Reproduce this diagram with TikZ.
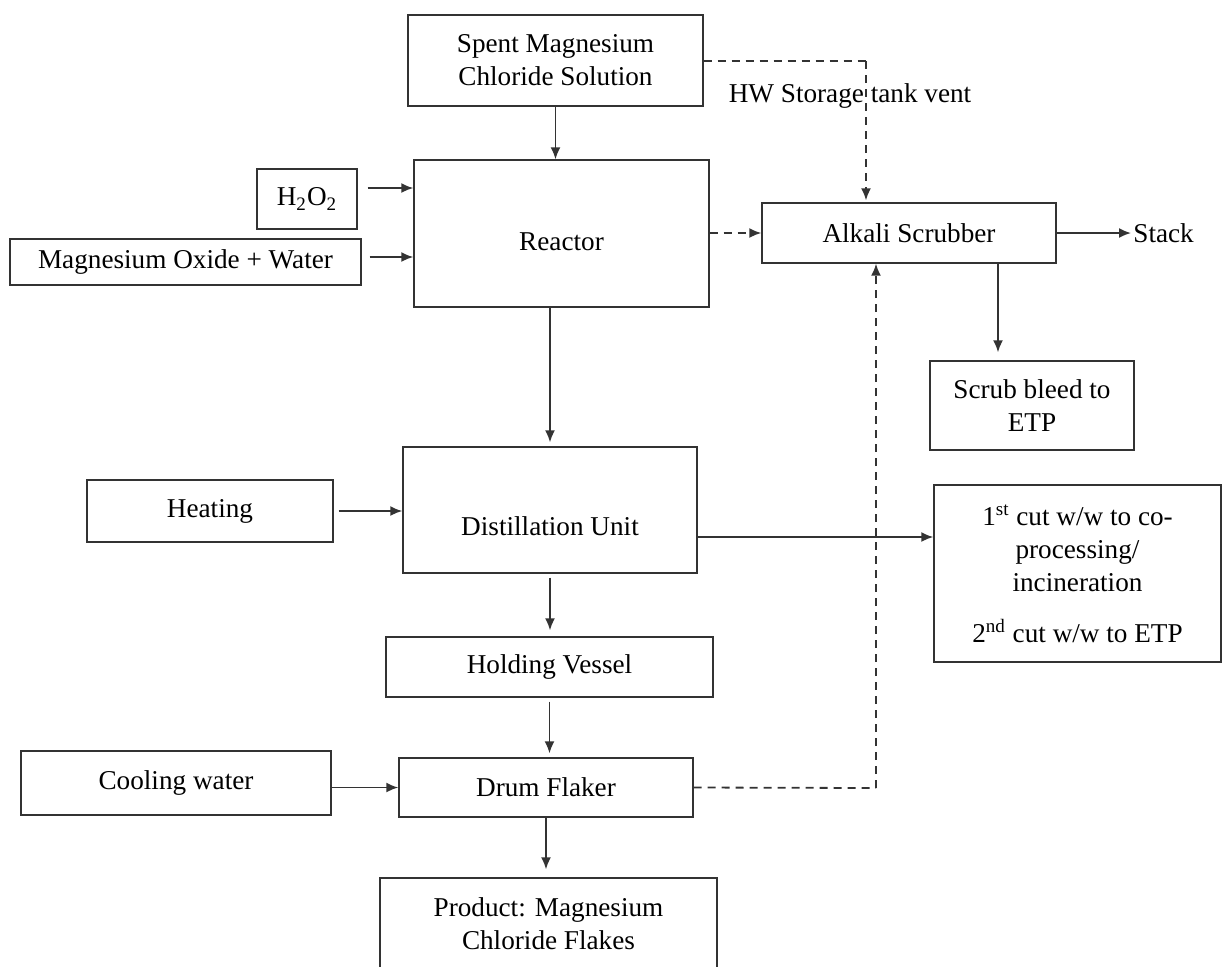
\documentclass[tikz,border=0pt]{standalone}
\usepackage{fontspec}
\setmainfont{Liberation Serif}
\usepackage{tikz}
\usetikzlibrary{arrows.meta, positioning, calc}
\tikzset{
  procbox/.style={
    draw=black!80, line width=0.7pt, align=center, inner sep=0pt,
    font=\fontsize{13.6}{16.5}\selectfont, fill=white
  },
  flowarrow/.style={
    -{Latex[length=6pt,width=5pt]}, line width=0.9pt, color=black!80
  },
  ventarrow/.style={
    -{Latex[length=6pt,width=5pt]}, line width=0.9pt, color=black!80,
    dash pattern=on 4pt off 3pt
  },
  ventline/.style={
    line width=0.9pt, color=black!80, dash pattern=on 4pt off 3pt
  },
  flowlabel/.style={
    font=\fontsize{13.6}{16.5}\selectfont, inner sep=1pt
  },
}
\newcommand{\lowertext}[2]{\raisebox{-#1}[\height][\depth]{#2}}

\begin{document}
\begin{tikzpicture}[x=0.5pt, y=-0.5pt]
  \useasboundingbox (0,0) rectangle (1222,966);

  % Feed and reactor
  \node[procbox, minimum width=147.5pt, minimum height=45.5pt] (spent) at (555.5,60.5)
    {Spent Magnesium\\Chloride Solution};
  \node[procbox, minimum width=147.5pt, minimum height=73.5pt] (reactor) at (561.5,233.5)
    {\lowertext{4pt}{Reactor}};
  \node[procbox, minimum width=50pt, minimum height=30pt] (hyd) at (307,199)
    {H\textsubscript{2}O\textsubscript{2}};
  \node[procbox, minimum width=175.5pt, minimum height=23pt] (mgo) at (185.5,262)
    {Magnesium Oxide + Water};

  % Scrubber side
  \node[procbox, minimum width=147pt, minimum height=30pt] (scrubber) at (909,233)
    {Alkali Scrubber};
  \node[procbox, minimum width=102pt, minimum height=44.5pt] (bleed) at (1032,405.5)
    {Scrub bleed to\\ETP};
  \node[flowlabel, anchor=west] (stack) at (1131,233) {Stack};
  \node[flowlabel] (hwvent) at (850,96) {HW Storage tank vent};
  \coordinate (ventturn) at (866,61);

  % Distillation
  \node[procbox, minimum width=123pt, minimum height=31pt] (heating) at (210,511)
    {Heating};
  \node[procbox, minimum width=147pt, minimum height=63pt] (distill) at (550,510)
    {\lowertext{8pt}{Distillation Unit}};
  \node[procbox, minimum width=143.5pt, minimum height=88.5pt] (cuts) at (1077.5,573.5)
    {1\textsuperscript{st} cut w/w to co-\\processing/\\incineration\\[9pt]
     2\textsuperscript{nd} cut w/w to ETP};

  % Flaking
  \node[procbox, minimum width=163.5pt, minimum height=30pt] (holding) at (549.5,667)
    {Holding Vessel};
  \node[procbox, minimum width=155pt, minimum height=32pt] (cooling) at (176,783)
    {Cooling water};
  \node[procbox, minimum width=147pt, minimum height=29.5pt] (flaker) at (546,787.5)
    {Drum Flaker};
  \node[procbox, minimum width=168.5pt, minimum height=46pt] (product) at (548.5,924)
    {Product: Magnesium\\Chloride Flakes};
  \coordinate (flakerturn) at (876,788);

  % Main flow
  \draw[flowarrow] (spent.south) -- (spent.south |- reactor.north);
  \draw[flowarrow, shorten <=5pt] ([yshift=5.5pt]hyd.east) -- ([yshift=5.5pt]hyd.east -| reactor.west);
  \draw[flowarrow, shorten <=4pt] ([yshift=2.5pt]mgo.east) -- ([yshift=2.5pt]mgo.east -| reactor.west);
  \draw[flowarrow, shorten >=2pt] (reactor.south -| distill.north) -- (distill.north);
  \draw[flowarrow, shorten <=2.5pt] (heating.east) -- (heating.east -| distill.west);
  \draw[flowarrow] ([yshift=-13.5pt]distill.east) -- ([yshift=-13.5pt]distill.east -| cuts.west);
  \draw[flowarrow, shorten <=2pt, shorten >=3pt] (distill.south) -- (distill.south |- holding.north);
  \draw[flowarrow, shorten <=2pt, shorten >=2pt] (holding.south) -- (holding.south |- flaker.north);
  \draw[flowarrow] (flaker.west -| cooling.east) -- (flaker.west);
  \draw[flowarrow, shorten >=4pt] (flaker.south) -- (flaker.south |- product.north);

  % Scrubber flow
  \draw[flowarrow] (scrubber.east) -- (stack.west);
  \draw[flowarrow, shorten >=4pt] ([xshift=44.5pt]scrubber.south) -- ([xshift=44.5pt]scrubber.south |- bleed.north);

  % Vents
  \draw[ventline] (spent.east |- ventturn) -- (ventturn);
  \draw[ventarrow, shorten >=1pt] (ventturn) -- (ventturn |- scrubber.north);
  \draw[ventarrow] (reactor.east |- scrubber.west) -- (scrubber.west);
  \draw[ventline] (flaker.east) -- (flakerturn);
  \draw[ventarrow] (flakerturn) -- (flakerturn |- scrubber.south);
\end{tikzpicture}
\end{document}
